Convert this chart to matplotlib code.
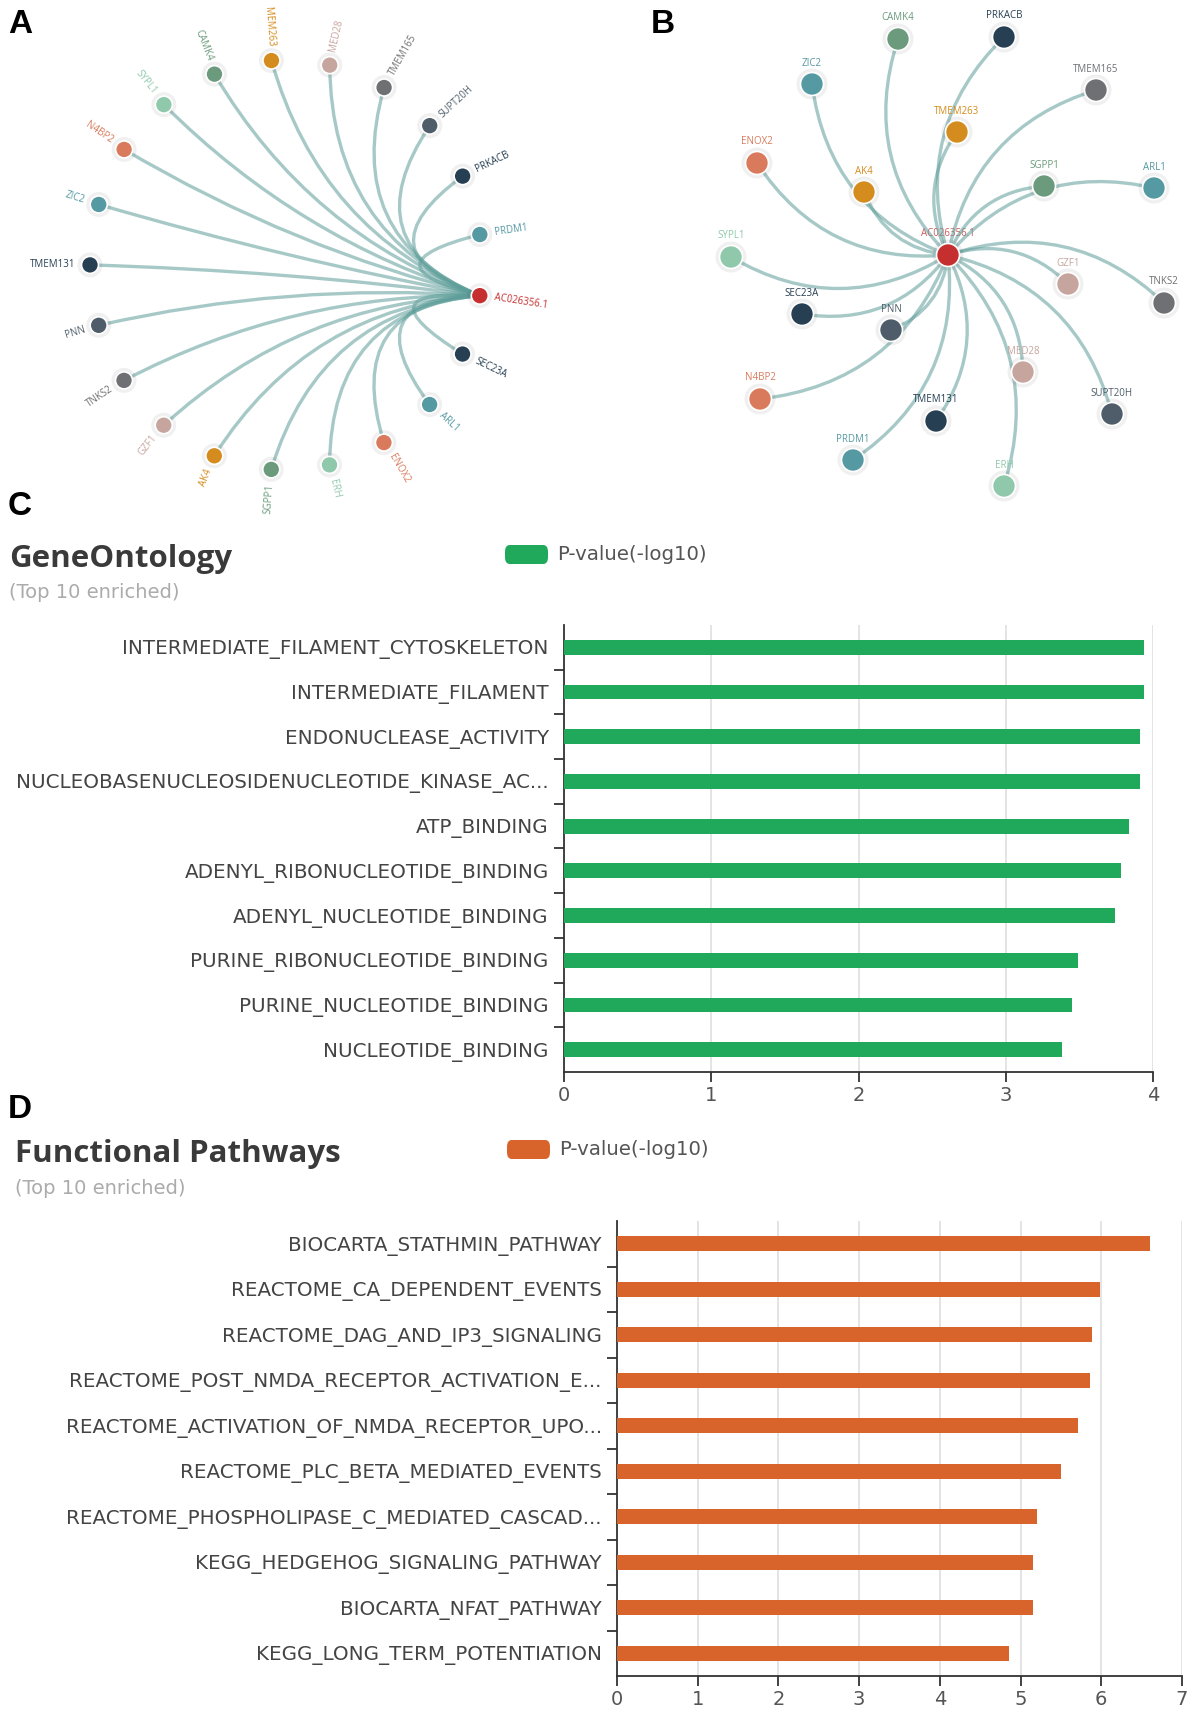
import matplotlib
matplotlib.use('Agg')
import matplotlib.pyplot as plt
import matplotlib.patches as mpatches
from matplotlib.path import Path
import numpy as np

plt.rcParams['font.family'] = ['Open Sans', 'DejaVu Sans']

# --- palette ---
RED    = '#C62F2F'
NAVY   = '#263F52'
TEAL   = '#5599A3'
SALMON = '#D97A5C'
MINT   = '#8FC8AA'
SAGE   = '#6B9B7C'
AMBER  = '#D58C1E'
ROSE   = '#C6A59E'
GREY   = '#6F7073'
SLATE  = '#4E5D69'
EDGE   = '#5E9E9A'
GREEN  = '#20A95A'
ORANGE = '#D8632B'
TXT    = '#444444'
TXT_LT = '#ABABAB'
WIDE   = 'DejaVu Sans'   # wide face, closest to the original label font

HUB = 'AC026356.1'

# --- panel A: circular layout, clockwise from the hub ---
ring_genes = ['AC026356.1', 'SEC23A', 'ARL1', 'ENOX2', 'ERH', 'SGPP1', 'AK4', 'GZF1',
              'TNKS2', 'PNN', 'TMEM131', 'ZIC2', 'N4BP2', 'SYPL1', 'CAMK4', 'MEM263',
              'MED28', 'TMEM165', 'SUPT20H', 'PRKACB', 'PRDM1']
ring_colors = [RED, NAVY, TEAL, SALMON, MINT, SAGE, AMBER, ROSE, GREY, SLATE, NAVY,
               TEAL, SALMON, MINT, SAGE, AMBER, ROSE, GREY, SLATE, NAVY, TEAL]

# --- panel B: force layout, node offsets from the hub ---
force_genes = ['CAMK4', 'PRKACB', 'ZIC2', 'TMEM165', 'TMEM263', 'ENOX2', 'AK4', 'SGPP1',
               'ARL1', 'SYPL1', 'GZF1', 'TNKS2', 'SEC23A', 'PNN', 'N4BP2', 'MED28',
               'TMEM131', 'SUPT20H', 'PRDM1', 'ERH']
force_dx = [-50, 56, -136, 148, 9, -191, -84, 96, 206, -217, 120, 216, -146, -57,
            -188, 75, -12, 164, -95, 56]
force_dy = [-216, -218, -171, -165, -123, -92, -63, -69, -67, 2, 29, 48, 59, 75,
            144, 117, 166, 159, 205, 231]
force_colors = [SAGE, NAVY, TEAL, GREY, AMBER, SALMON, AMBER, SAGE, TEAL, MINT, ROSE,
                GREY, NAVY, SLATE, SALMON, ROSE, NAVY, SLATE, TEAL, MINT]

# --- panel C: GO terms ---
go_terms = ['INTERMEDIATE_FILAMENT_CYTOSKELETON', 'INTERMEDIATE_FILAMENT',
            'ENDONUCLEASE_ACTIVITY', 'NUCLEOBASENUCLEOSIDENUCLEOTIDE_KINASE_AC...',
            'ATP_BINDING', 'ADENYL_RIBONUCLEOTIDE_BINDING', 'ADENYL_NUCLEOTIDE_BINDING',
            'PURINE_RIBONUCLEOTIDE_BINDING', 'PURINE_NUCLEOTIDE_BINDING', 'NUCLEOTIDE_BINDING']
go_pval = [3.94, 3.94, 3.91, 3.91, 3.84, 3.78, 3.74, 3.49, 3.45, 3.38]

# --- panel D: pathways ---
path_terms = ['BIOCARTA_STATHMIN_PATHWAY', 'REACTOME_CA_DEPENDENT_EVENTS',
              'REACTOME_DAG_AND_IP3_SIGNALING', 'REACTOME_POST_NMDA_RECEPTOR_ACTIVATION_E...',
              'REACTOME_ACTIVATION_OF_NMDA_RECEPTOR_UPO...', 'REACTOME_PLC_BETA_MEDIATED_EVENTS',
              'REACTOME_PHOSPHOLIPASE_C_MEDIATED_CASCAD...', 'KEGG_HEDGEHOG_SIGNALING_PATHWAY',
              'BIOCARTA_NFAT_PATHWAY', 'KEGG_LONG_TERM_POTENTIATION']
path_pval = [6.60, 5.99, 5.89, 5.86, 5.71, 5.50, 5.20, 5.16, 5.16, 4.86]

W, H = 1200, 1713
fig = plt.figure(figsize=(12, 17.13), dpi=100)
fig.patch.set_facecolor('white')


def fx(x):
    return x / W


def fy(y):
    return 1 - y / H


def curve(ax, p0, p1, p2, lw=2.4):
    path = Path([p0, p1, p2], [Path.MOVETO, Path.CURVE3, Path.CURVE3])
    ax.add_patch(mpatches.PathPatch(path, facecolor='none', edgecolor=EDGE,
                                    alpha=0.55, lw=lw, capstyle='round', zorder=1))


def node(ax, x, y, r, color):
    ax.add_patch(mpatches.Circle((x, y), r + 4, color='black', alpha=0.06, lw=0, zorder=2))
    ax.add_patch(mpatches.Circle((x, y), r, facecolor=color, edgecolor='white',
                                 lw=1.2, zorder=3))


# ============ network panels ============
NET_H = 530
net = fig.add_axes([0, fy(NET_H), 1, NET_H / H])
net.set_xlim(0, W)
net.set_ylim(NET_H, 0)
net.axis('off')

# panel A
cx, cy, rx, ry = 286, 265, 196, 205
step = 360 / len(ring_genes)
ang = np.deg2rad(-8.6 - step * np.arange(len(ring_genes)))
ax_x = cx + rx * np.cos(ang)
ax_y = cy - ry * np.sin(ang)
hx, hy = ax_x[0], ax_y[0]
k = 0.62
for i in range(1, len(ring_genes)):
    mx, my = (ax_x[i] + hx) / 2, (ax_y[i] + hy) / 2
    cp = (mx * (1 - k) + cx * k, my * (1 - k) + cy * k)
    curve(net, (ax_x[i], ax_y[i]), cp, (hx, hy))
rA = 8.5
for i, (g, c) in enumerate(zip(ring_genes, ring_colors)):
    node(net, ax_x[i], ax_y[i], rA, c)
    a = ang[i]
    d = rA + 6
    tx = ax_x[i] + d * np.cos(a)
    ty = ax_y[i] - d * np.sin(a)
    deg = np.rad2deg(a)
    if np.cos(a) >= -1e-6:
        rot, ha = deg, 'left'
    else:
        rot, ha = deg + 180, 'right'
    net.text(tx, ty, g, rotation=rot, ha=ha, va='center', rotation_mode='anchor',
             fontsize=7, color=c, zorder=4)

# panel B
bx, by = 948, 255
rad = 0.3
for dx, dy in zip(force_dx, force_dy):
    x2, y2 = bx + dx, by + dy
    mx, my = (bx + x2) / 2, (by + y2) / 2
    # bulge on the left of travel (screen view, y axis pointing down)
    cp = (mx + rad * dy, my - rad * dx)
    curve(net, (bx, by), cp, (x2, y2))
rB = 11.5
for g, dx, dy, c in zip(force_genes, force_dx, force_dy, force_colors):
    node(net, bx + dx, by + dy, rB, c)
    net.text(bx + dx, by + dy - rB - 4, g, ha='center', va='bottom', fontsize=7,
             color=c, zorder=4)
node(net, bx, by, rB, RED)
net.text(bx, by - rB - 4, HUB, ha='center', va='bottom', fontsize=7, color=RED,
         alpha=0.8, zorder=0.5)

# ============ bar panels ============
def bar_panel(left, top, right, bottom, labels, values, color, xmax):
    ax = fig.add_axes([fx(left), fy(bottom), fx(right - left), (bottom - top) / H])
    y = np.arange(len(labels))
    ax.barh(y, values, height=0.33, color=color, zorder=3)
    ax.set_xlim(0, xmax)
    ax.set_ylim(len(labels) - 0.5, -0.5)
    ax.set_yticks(y)
    ax.set_yticklabels(labels, family=WIDE)
    ax.set_yticks(np.arange(0.5, len(labels) - 0.5, 1), minor=True)
    ax.set_xticks(np.arange(0, xmax + 1))
    ax.set_xticklabels([str(v) for v in range(xmax + 1)], family=WIDE)
    ax.tick_params(axis='y', which='major', length=0, pad=11, labelsize=14.3, labelcolor=TXT)
    ax.tick_params(axis='y', which='minor', length=7, width=1.3, color='#333333')
    ax.tick_params(axis='x', length=7, width=1.3, color='#333333', labelsize=14,
                   labelcolor='#555555', pad=3)
    ax.grid(axis='x', color='#DDDDDD', lw=1.1, zorder=0)
    ax.spines['top'].set_visible(False)
    ax.spines['right'].set_visible(False)
    for s in ['left', 'bottom']:
        ax.spines[s].set_color('#333333')
        ax.spines[s].set_linewidth(1.3)
    return ax


bar_panel(564, 625, 1153, 1072, go_terms, go_pval, GREEN, 4)
bar_panel(617, 1221, 1182, 1676, path_terms, path_pval, ORANGE, 7)


def header(x, ybase, title, sub_y, lx, ly, color):
    fig.text(fx(x), fy(ybase), title, fontsize=22.5, fontweight='bold', color='#3A3A3A',
             va='baseline', ha='left')
    fig.text(fx(x), fy(sub_y), '(Top 10 enriched)', fontsize=14, color=TXT_LT,
             va='center', ha='left', family=WIDE)
    fig.patches.append(mpatches.FancyBboxPatch(
        (fx(lx), fy(ly + 19)), fx(43), 19 / H, boxstyle='round,pad=0,rounding_size=0.004',
        transform=fig.transFigure, facecolor=color, edgecolor='none'))
    fig.text(fx(lx + 52), fy(ly + 9.5), 'P-value(-log10)', fontsize=14.2, color='#555555',
             va='center', ha='left', family=WIDE)


header(9, 567, 'GeneOntology', 593, 505, 545, GREEN)
header(15, 1162, 'Functional Pathways', 1188, 507, 1140, ORANGE)

# panel letters
for letter, x, y in [('A', 8, 9), ('B', 651, 9), ('C', 8, 491), ('D', 8, 1094)]:
    fig.text(fx(x), fy(y), letter, fontsize=24, fontweight='bold', family='Liberation Sans',
             va='top', ha='left', color='black')

fig.savefig('out.png', dpi=100, facecolor='white')
